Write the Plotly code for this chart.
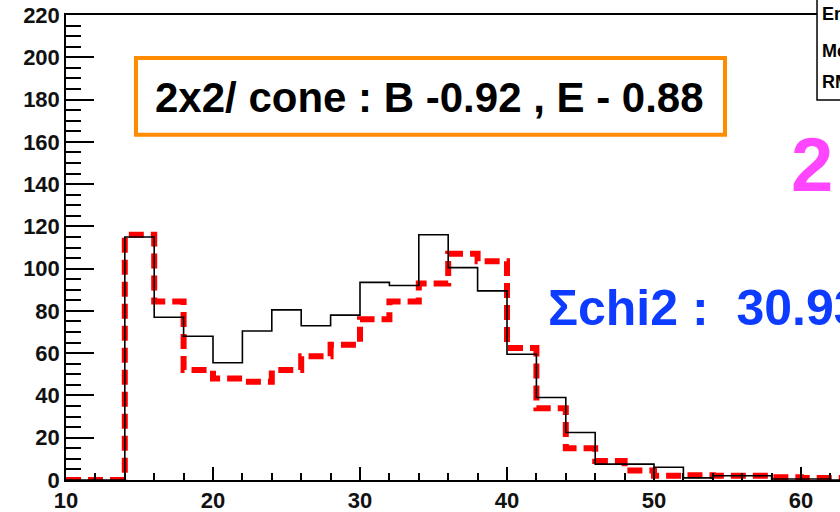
import plotly.graph_objects as go

# Bin edges (width 2) and bin contents of the two histograms
bin_edges = list(range(10, 66, 2))
data_hist = [0, 0, 115, 77, 68, 55.5, 70.5, 80.5, 73, 78, 93.5, 92, 116, 100.5,
             89.5, 59.5, 39, 22.5, 7.5, 7.5, 6, 1, 2, 2, 0.5, 0.5, 0]
mc_hist = [0, 0, 116, 84.5, 52, 48, 46.5, 52, 58.5, 64, 76, 84.5, 93, 107,
           103.5, 62.5, 34, 15, 9, 4.5, 2, 2.3, 2, 2, 1.3, 1, 1]

y_ticks = list(range(0, 240, 20))
x_ticks = list(range(10, 70, 10))

box_label = "2x2/ cone : B -0.92 , E - 0.88"
chi2_label = "\u03a3chi2 :  30.93"
stats_rows = ["Entries", "Mean", "RMS"]

FONT = "Liberation Sans, Arial, Helvetica, sans-serif"


def step_xy(values):
    # histogram outline: one point per bin edge, last value repeated
    return bin_edges, list(values) + [values[-1]]


fig = go.Figure()

mx, my = step_xy(mc_hist)
fig.add_trace(go.Scatter(
    x=mx, y=my, mode="lines", line_shape="hv",
    line=dict(color="#ff0000", width=6, dash="15px,7px"),
    showlegend=False, cliponaxis=False,
))

dx, dy = step_xy(data_hist)
fig.add_trace(go.Scatter(
    x=dx, y=dy, mode="lines", line_shape="hv",
    line=dict(color="#000000", width=1.6),
    showlegend=False,
))

# orange text box
fig.add_shape(type="rect", xref="x", yref="y",
              x0=14.76, x1=54.83, y0=163.3, y1=199.7,
              line=dict(color="#ff8c00", width=4), fillcolor="rgba(0,0,0,0)",
              layer="above")
fig.add_annotation(x=34.7, y=181.0, xref="x", yref="y", text=box_label,
                   showarrow=False, xanchor="center", yanchor="middle",
                   font=dict(family=FONT, size=42, color="#000000", weight="bold"))

# chi2 text
fig.add_annotation(x=42.65, y=81.3, xref="x", yref="y", text=chi2_label,
                   showarrow=False, xanchor="left", yanchor="middle",
                   font=dict(family=FONT, size=50, color="#0d3bff", weight="bold"))

# magenta label
fig.add_annotation(x=59.2, y=149.4, xref="x", yref="y", text="2",
                   showarrow=False, xanchor="left", yanchor="middle",
                   font=dict(family=FONT, size=76, color="#ff45ff", weight="bold"))

# statistics box
fig.add_shape(type="rect", xref="x", yref="paper",
              x0=61.09, x1=70, y0=(480 - 100) / 465, y1=1.2,
              line=dict(color="#000000", width=1.5), fillcolor="#ffffff",
              layer="above")
for row, ypx in zip(stats_rows, [14, 51, 82]):
    fig.add_annotation(x=61.3, y=(480 - ypx) / 465, xref="x", yref="paper",
                       text=row, showarrow=False, xanchor="left", yanchor="middle",
                       font=dict(family=FONT, size=18, color="#000000", weight="bold"))

fig.update_layout(
    width=840, height=512, autosize=False,
    margin=dict(l=66, r=0, t=15, b=32),
    paper_bgcolor="#ffffff", plot_bgcolor="#ffffff",
    showlegend=False,
    xaxis=dict(
        range=[10, 10 + 774 / 14.7],
        tickvals=x_ticks, ticktext=[str(v) for v in x_ticks],
        ticks="inside", ticklen=13, tickwidth=1.5, tickcolor="#000000",
        minor=dict(dtick=2, tick0=10, ticks="inside", ticklen=7,
                   tickwidth=1.5, tickcolor="#000000", showgrid=False),
        showline=True, linecolor="#000000", linewidth=1.5, mirror=True,
        showgrid=False, zeroline=False,
        tickfont=dict(family=FONT, size=22, color="#111111", weight="bold"),
    ),
    yaxis=dict(
        range=[0, 220],
        tickvals=y_ticks, ticktext=[str(v) for v in y_ticks],
        ticks="inside", ticklen=28, tickwidth=1.5, tickcolor="#000000",
        minor=dict(dtick=5, tick0=0, ticks="inside", ticklen=15,
                   tickwidth=1.5, tickcolor="#000000", showgrid=False),
        showline=True, linecolor="#000000", linewidth=1.5,
        showgrid=False, zeroline=False,
        tickfont=dict(family=FONT, size=22, color="#111111", weight="bold"),
    ),
)

fig.write_html("out.html")
